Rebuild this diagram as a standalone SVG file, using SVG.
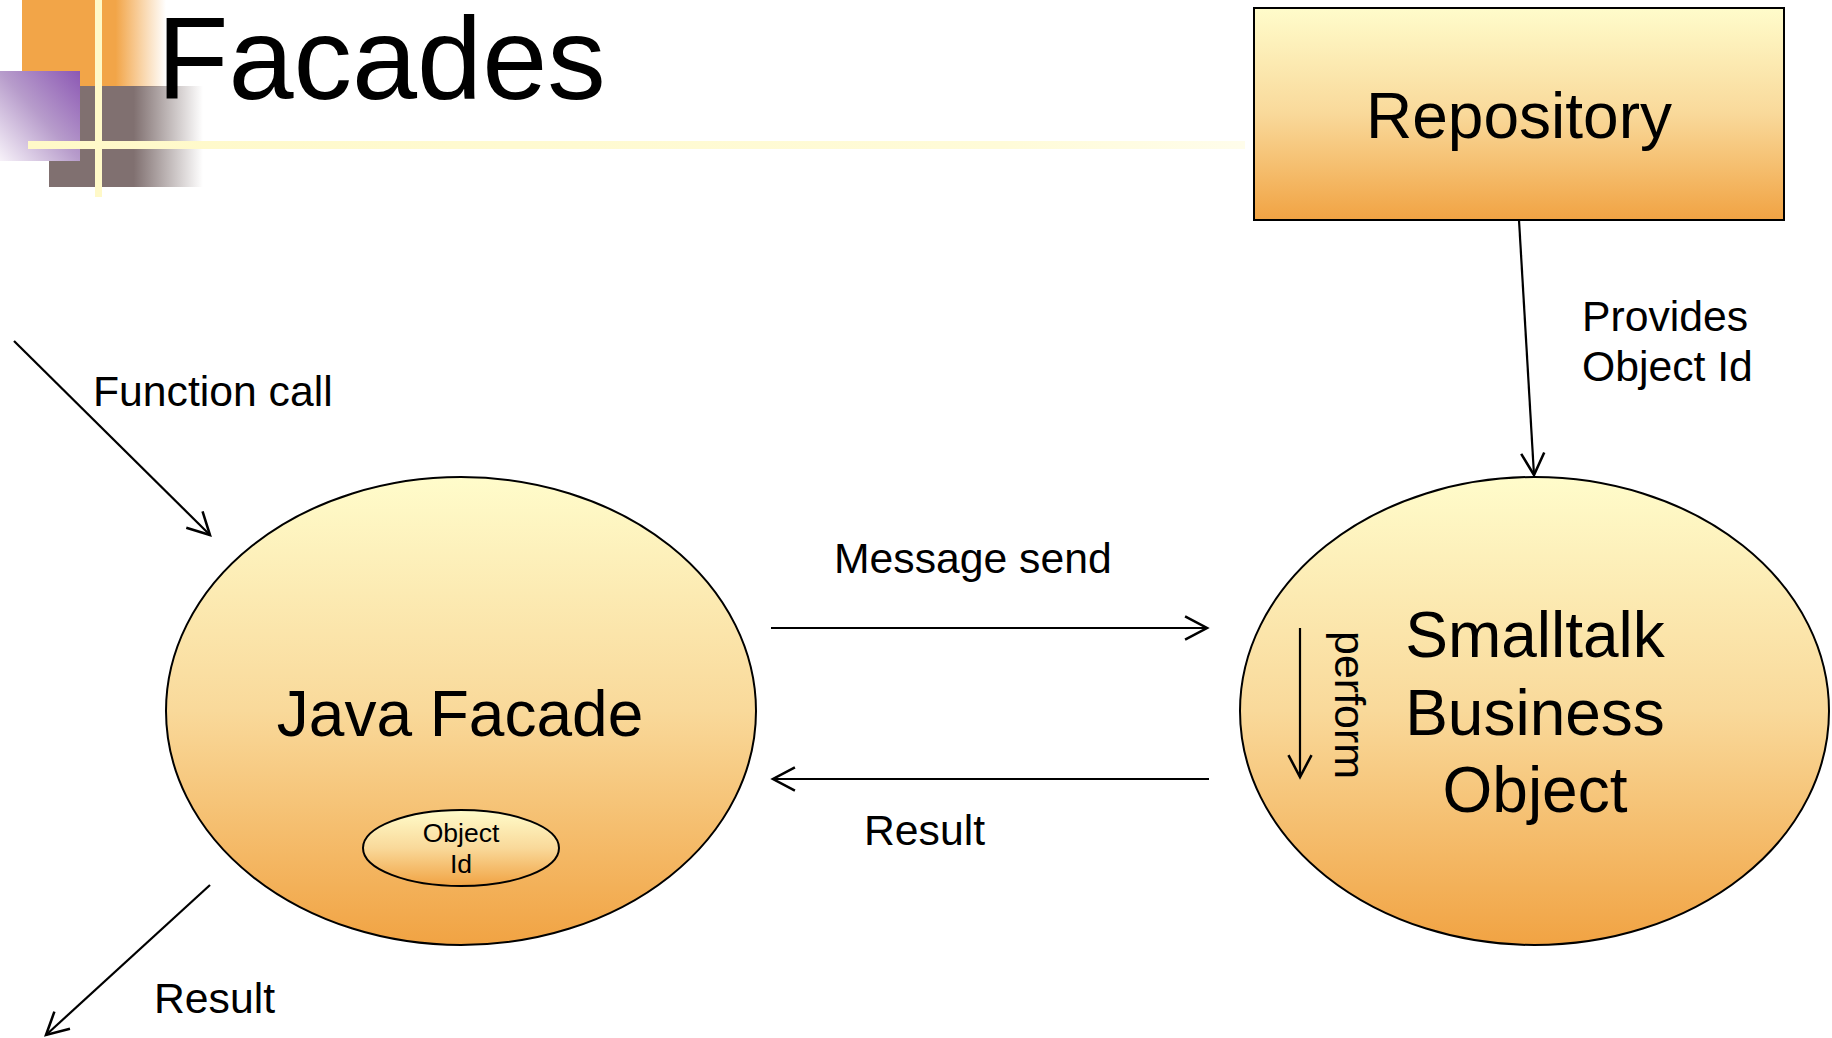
<svg xmlns="http://www.w3.org/2000/svg" width="1832" height="1038" viewBox="0 0 1832 1038">
<style>
.lbl{font-family:"Liberation Sans",Arial,sans-serif;fill:#000}
.node{stroke:#000;stroke-width:2}
.conn{stroke:#000;stroke-width:2.2;fill:none}
</style>
<defs>
<linearGradient id="fill" x1="0" y1="0" x2="0" y2="1">
<stop offset="0" stop-color="#FFFCCB"/>
<stop offset="0.5" stop-color="#F9D99A"/>
<stop offset="1" stop-color="#F1A343"/>
</linearGradient>
<linearGradient id="orangeFade" x1="0" y1="0" x2="1" y2="0">
<stop offset="0" stop-color="#F2A548"/>
<stop offset="0.65" stop-color="#F2A548"/>
<stop offset="1" stop-color="#F2A548" stop-opacity="0"/>
</linearGradient>
<linearGradient id="grayFade" x1="0" y1="0" x2="1" y2="0">
<stop offset="0" stop-color="#807070"/>
<stop offset="0.55" stop-color="#807070"/>
<stop offset="1" stop-color="#807070" stop-opacity="0"/>
</linearGradient>
<linearGradient id="purpleFade" x1="1" y1="0" x2="0" y2="1">
<stop offset="0" stop-color="#8C58B4"/>
<stop offset="0.5" stop-color="#B79CCB"/>
<stop offset="1" stop-color="#F7F2F9"/>
</linearGradient>
<linearGradient id="hline" x1="0" y1="0" x2="1" y2="0">
<stop offset="0" stop-color="#FFF9C8"/>
<stop offset="0.8" stop-color="#FFFBD8"/>
<stop offset="1" stop-color="#FFFDEB"/>
</linearGradient>
<marker id="arrow" markerUnits="userSpaceOnUse" markerWidth="30" markerHeight="30" viewBox="-22 -13 26 26" refX="0" refY="0" orient="auto">
<path d="M-19,-10 L0,0 L-19,10" fill="none" stroke="#000" stroke-width="2.2"/>
</marker>
</defs>

<g id="decoration">
<rect x="22" y="0" width="144" height="87" fill="url(#orangeFade)"/>
<rect x="49" y="86" width="154" height="101" fill="url(#grayFade)"/>
<rect x="0" y="71" width="80" height="90" fill="url(#purpleFade)"/>
<rect x="95" y="0" width="7" height="197" fill="#FFF9C8"/>
<rect x="28" y="141" width="1217" height="8" fill="url(#hline)"/>
<text class="lbl" x="157" y="99" font-size="117">Facades</text>
</g>

<g id="repository">
<rect class="node" x="1254" y="8" width="530" height="212" fill="url(#fill)"/>
<text class="lbl" x="1519" y="138" font-size="64" text-anchor="middle">Repository</text>
</g>

<g id="java-facade">
<ellipse class="node" cx="461" cy="711" rx="295" ry="234" fill="url(#fill)"/>
<text class="lbl" x="460" y="736" font-size="64" text-anchor="middle">Java Facade</text>
</g>

<g id="object-id">
<ellipse class="node" cx="461" cy="848" rx="98" ry="38" fill="url(#fill)"/>
<text class="lbl" x="461" y="842" font-size="26.5" text-anchor="middle">Object</text>
<text class="lbl" x="461" y="873" font-size="26.5" text-anchor="middle">Id</text>
</g>

<g id="smalltalk">
<ellipse class="node" cx="1534.5" cy="711" rx="294.5" ry="234" fill="url(#fill)"/>
<text class="lbl" x="1535" y="657" font-size="64" text-anchor="middle">Smalltalk</text>
<text class="lbl" x="1535" y="735" font-size="64" text-anchor="middle">Business</text>
<text class="lbl" x="1535" y="812" font-size="64" text-anchor="middle">Object</text>
<text class="lbl" x="1335" y="631" font-size="43" transform="rotate(90 1335 631)">perform</text>
</g>

<g id="connectors">
<line class="conn" x1="14" y1="341" x2="210" y2="535" marker-end="url(#arrow)"/>
<line class="conn" x1="210" y1="885" x2="46" y2="1035" marker-end="url(#arrow)"/>
<line class="conn" x1="771" y1="628" x2="1207" y2="628" marker-end="url(#arrow)"/>
<line class="conn" x1="1209" y1="779" x2="773" y2="779" marker-end="url(#arrow)"/>
<line class="conn" x1="1519" y1="220" x2="1534" y2="475" marker-end="url(#arrow)"/>
<line class="conn" x1="1300" y1="628" x2="1300" y2="777" marker-end="url(#arrow)"/>
</g>

<g id="labels">
<text class="lbl" x="93" y="406" font-size="42.7">Function call</text>
<text class="lbl" x="154" y="1013" font-size="42.7">Result</text>
<text class="lbl" x="834" y="573" font-size="42.7">Message send</text>
<text class="lbl" x="864" y="845" font-size="42.7">Result</text>
<text class="lbl" x="1582" y="331" font-size="42.7">Provides</text>
<text class="lbl" x="1582" y="381" font-size="42.7">Object Id</text>
</g>
</svg>
